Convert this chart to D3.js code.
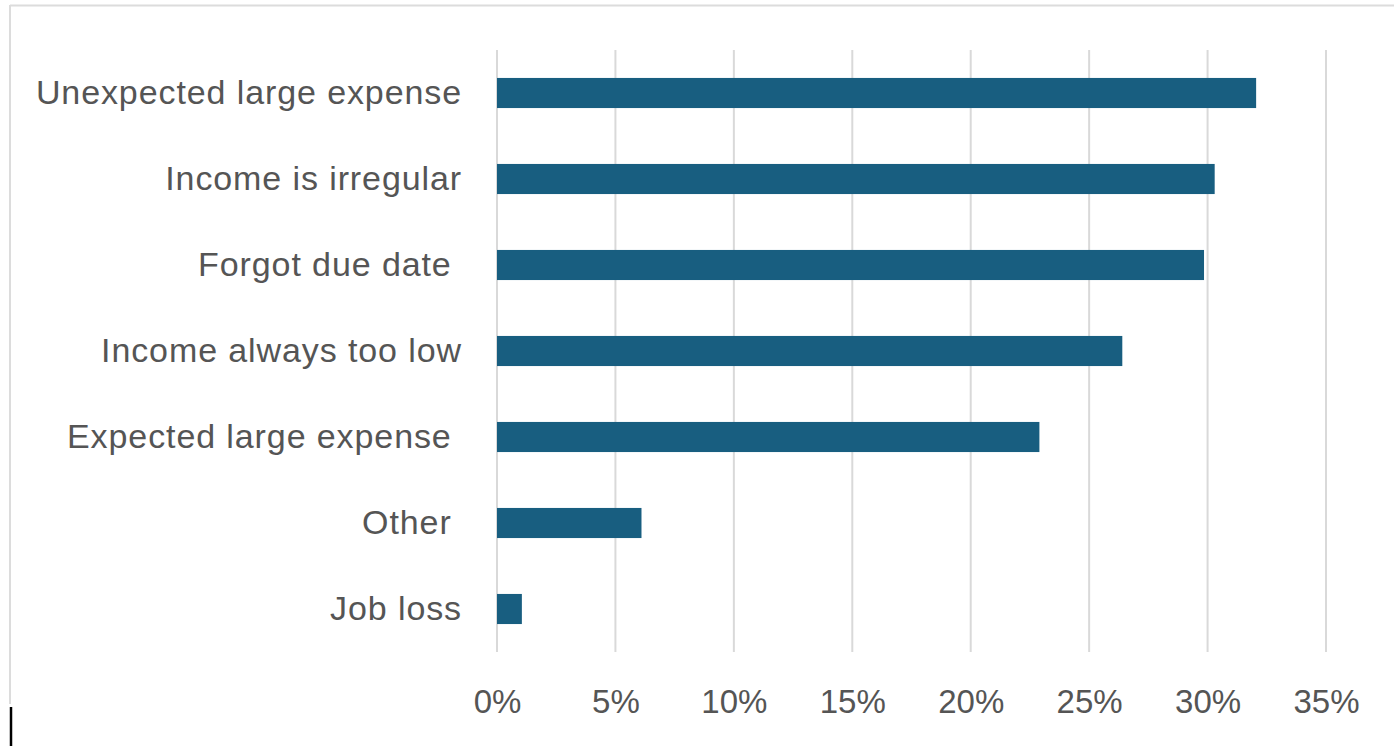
<!DOCTYPE html>
<html>
<head>
<meta charset="utf-8">
<script src="https://cdn.jsdelivr.net/npm/d3@7"></script>
<style>
  html, body { margin: 0; padding: 0; background: #fff; }
  svg { display: block; }
</style>
</head>
<body>
<svg id="chart" width="1394" height="746"></svg>
<script>
const categories = [
  "Unexpected large expense",
  "Income is irregular",
  "Forgot due date ",
  "Income always too low",
  "Expected large expense ",
  "Other ",
  "Job loss"
];
const values = [0.3205, 0.303, 0.2985, 0.264, 0.229, 0.061, 0.0105];
const tickValues = [0, 0.05, 0.10, 0.15, 0.20, 0.25, 0.30, 0.35];

const svg = d3.select("#chart");
const W = 1394, H = 746;

// frame (cropped screenshot border)
svg.append("line").attr("x1", 10).attr("x2", W).attr("y1", 5.5).attr("y2", 5.5)
  .attr("stroke", "#dcdcdc").attr("stroke-width", 2);
svg.append("line").attr("x1", 10).attr("x2", 10).attr("y1", 5).attr("y2", 704)
  .attr("stroke", "#dcdcdc").attr("stroke-width", 2);
svg.append("line").attr("x1", 11).attr("x2", 11).attr("y1", 707).attr("y2", H)
  .attr("stroke", "#000").attr("stroke-width", 2.5);

const x = d3.scaleLinear().domain([0, 0.35]).range([497, 1326]);
const y = d3.scaleBand().domain(categories).range([50, 652])
  .paddingInner(0.65).paddingOuter(0.325);

// gridlines
svg.append("g").selectAll("line").data(tickValues).join("line")
  .attr("x1", d => x(d)).attr("x2", d => x(d))
  .attr("y1", 50).attr("y2", 652)
  .attr("stroke", "#d9d9d9").attr("stroke-width", 2);

// bars
svg.append("g").selectAll("rect").data(values).join("rect")
  .attr("x", x(0))
  .attr("y", (d, i) => y(categories[i]))
  .attr("width", d => x(d) - x(0))
  .attr("height", y.bandwidth())
  .attr("fill", "#185e80");

// category labels
const yAxis = d3.axisLeft(y).tickSize(0).tickPadding(0);
const gy = svg.append("g").attr("transform", "translate(462,-1)").call(yAxis);
gy.select(".domain").remove();
gy.selectAll("text")
  .attr("fill", "#555555")
  .style("font-family", "'Liberation Sans', Arial, sans-serif")
  .style("font-size", "34px")
  .style("letter-spacing", "0.9px")
  .style("white-space", "pre")
  .attr("dy", "0.35em");

// x tick labels
const xAxis = d3.axisBottom(x).tickValues(tickValues).tickSize(0).tickPadding(0)
  .tickFormat(d3.format(".0%"));
const gx = svg.append("g").attr("transform", "translate(0,701)").call(xAxis);
gx.select(".domain").remove();
gx.selectAll("text")
  .attr("fill", "#555555")
  .attr("dy", "0.35em")
  .style("font-family", "'Liberation Sans', Arial, sans-serif")
  .style("font-size", "33px");
</script>
</body>
</html>
